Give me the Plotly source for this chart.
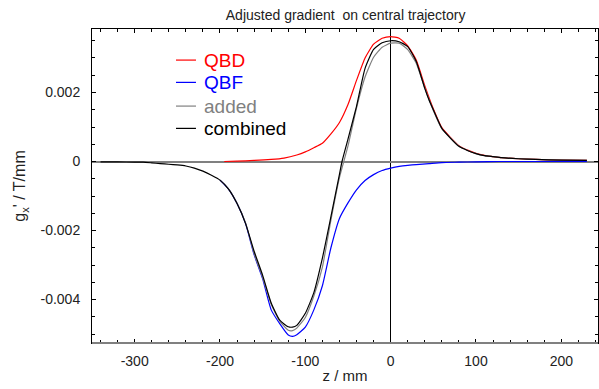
import plotly.graph_objects as go

# ---- data ----
z_qbd = [-195, -180, -160, -140, -125, -110, -100, -90, -80, -70, -60, -50, -40, -30, -20, -10, 0,
         10, 20, 30, 40, 50, 60, 70, 80, 90, 100, 110, 120, 130, 150, 170, 200, 230]
g_qbd = [0.0, 0.00001, 0.00003, 0.00006, 0.0001, 0.00019, 0.00028, 0.0004, 0.00053, 0.0008, 0.00113,
         0.00165, 0.00235, 0.003, 0.0034, 0.00357, 0.00362, 0.00357, 0.00335, 0.00294, 0.0022,
         0.00153, 0.00098, 0.0007, 0.00046, 0.00033, 0.00024, 0.00018, 0.00014, 0.00011, 0.00008,
         0.00006, 0.00004, 0.00003]

z_qbf = [-200, -190, -180, -170, -160, -150, -140, -130, -120, -115, -110, -100, -90, -80, -70, -60,
         -50, -40, -30, -20, -10, 0, 10, 20, 30, 45, 60, 80, 100, 127, 160, 230]
g_qbf = [-0.00054, -0.0008, -0.00122, -0.0018, -0.0027, -0.0034, -0.0043, -0.0047, -0.00503, -0.00507,
         -0.00502, -0.0048, -0.0043, -0.0036, -0.0025, -0.00165, -0.0012, -0.00082, -0.00055, -0.00038,
         -0.00026, -0.00019, -0.00014, -0.00011, -0.00009, -0.00006, -0.00003, -0.00002, -0.00001,
         0.0, 0.0, 0.0]

z_add = [-200, -190, -180, -170, -160, -150, -140, -130, -120, -115, -110, -100, -90, -80, -70, -60,
         -50, -40, -30, -20, -10, 0, 10, 20, 30, 40, 50, 60, 70, 80, 90, 100, 110, 120, 130, 150,
         170, 200, 230]
g_add = [-0.00054, -0.00079, -0.00121, -0.00178, -0.00267, -0.00336, -0.00414, -0.00463, -0.00489,
         -0.0049, -0.00483, -0.00452, -0.0039, -0.00306, -0.0017, -0.00047, 0.00045, 0.00155, 0.00245,
         0.00302, 0.00331, 0.00343, 0.00343, 0.00324, 0.00285, 0.00213, 0.00148, 0.00095, 0.00068,
         0.00044, 0.00032, 0.00023, 0.00017, 0.00014, 0.00011, 0.00008, 0.00006, 0.00004, 0.00003]

z_comb = [-340, -320, -300, -290, -280, -270, -260, -250, -240, -230, -220, -210, -200, -190, -180,
          -170, -160, -150, -140, -130, -120, -115, -110, -100, -90, -80, -70, -60, -57, -50, -40,
          -30, -20, -10, 0, 10, 20, 30, 40, 45, 50, 60, 70, 80, 90, 100, 110, 120, 130, 150, 170,
          200, 230]
g_comb = [-0.00001, -0.00001, -0.00002, -0.00002, -0.00004, -0.00006, -0.00008, -0.0001, -0.00013,
          -0.00019, -0.00028, -0.0004, -0.00054, -0.0008, -0.00122, -0.0018, -0.0026, -0.0033,
          -0.0041, -0.0046, -0.00479, -0.0048, -0.00475, -0.0044, -0.0038, -0.0028, -0.0016,
          -0.00037, 0.0, 0.00065, 0.0016, 0.0027, 0.00325, 0.00344, 0.0035, 0.00347, 0.00333,
          0.0029, 0.00212, 0.00178, 0.0015, 0.00096, 0.00068, 0.00044, 0.00032, 0.00023, 0.00017,
          0.00014, 0.00011, 0.00008, 0.00006, 0.00004, 0.00003]

series_names = ["QBD", "QBF", "added", "combined"]
series_colors = ["#ff0000", "#0000ff", "#808080", "#000000"]

x_ticks = [-300, -200, -100, 0, 100, 200]
x_tick_text = ["-300", "-200", "-100", "0", "100", "200"]
y_ticks = [-0.004, -0.002, 0, 0.002]
y_tick_text = ["-0.004", "-0.002", "0", "0.002"]

FONT = "Liberation Sans, Arial, sans-serif"

fig = go.Figure()
series_data = [(z_qbd, g_qbd), (z_qbf, g_qbf), (z_add, g_add), (z_comb, g_comb)]
for name, col, (zz, gg) in zip(series_names, series_colors, series_data):
    fig.add_trace(go.Scatter(
        x=zz, y=gg, mode="lines", line=dict(color=col, width=1.2, shape="spline", smoothing=0.5),
        name=name, showlegend=False))

# legend drawn inside the plot (key line + coloured label), paper coordinates
leg_y = [0.901, 0.830, 0.7545, 0.6835]
for name, col, yy in zip(series_names, series_colors, leg_y):
    fig.add_shape(type="line", xref="paper", yref="paper", x0=0.166, x1=0.2055, y0=yy, y1=yy,
                  line=dict(color=col, width=1.2))
    fig.add_annotation(xref="paper", yref="paper", x=0.2174, y=yy, xanchor="left", yanchor="middle",
                       text=name, showarrow=False, font=dict(size=19, color=col))

fig.update_layout(
    width=599, height=389,
    margin=dict(l=92, r=1, t=29, b=46, autoexpand=False),
    paper_bgcolor="white", plot_bgcolor="white",
    font=dict(family=FONT, size=14, color="#222222"),
    title=dict(text="Adjusted gradient  on central trajectory", x=0.577, xanchor="center",
               y=0.962, yanchor="middle", font=dict(size=14, color="#222222")),
    showlegend=False,
)
fig.update_xaxes(
    range=[-350, 243], tickvals=x_ticks, ticktext=x_tick_text, automargin=False,
    ticks="inside", ticklen=4, tickcolor="black", showgrid=False,
    showline=True, linecolor="black", linewidth=1, mirror="ticks",
    zeroline=True, zerolinecolor="black", zerolinewidth=1,
    minor=dict(dtick=20, ticks="inside", ticklen=3, tickcolor="black", showgrid=False),
    title=dict(text="z / mm", standoff=2, font=dict(size=15)),
    ticklabelstandoff=5,
)
fig.update_yaxes(
    range=[-0.00526, 0.00384], tickvals=y_ticks, ticktext=y_tick_text, automargin=False,
    ticks="inside", ticklen=4, tickcolor="black", showgrid=False,
    showline=True, linecolor="black", linewidth=1, mirror="ticks",
    zeroline=True, zerolinecolor="#808080", zerolinewidth=2,
    minor=dict(dtick=0.0005, ticks="inside", ticklen=3, tickcolor="black", showgrid=False),
    title=dict(text="g<sub>x</sub>' / T/mm", standoff=10, font=dict(size=16)),
    ticklabelstandoff=8,
)
fig.add_shape(type="line", xref="paper", yref="paper", x0=0, x1=1, y0=0, y1=0,
              line=dict(color="#808080", width=2))

fig.write_html("out.html", config={"displayModeBar": False},
               post_script="document.body.style.margin='0';document.body.style.overflow='hidden';")
